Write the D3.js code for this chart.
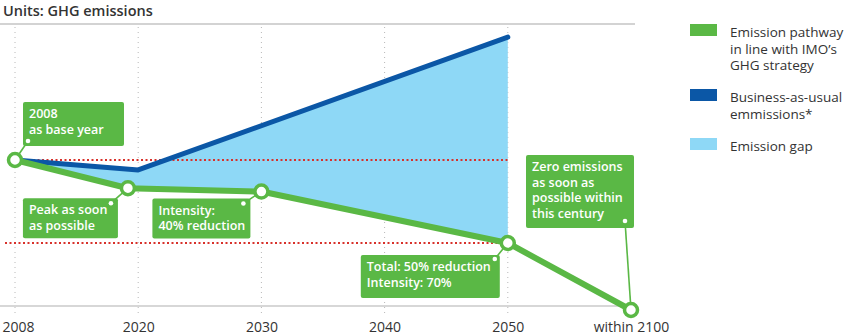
<!DOCTYPE html>
<html>
<head>
<meta charset="utf-8">
<script src="https://cdn.jsdelivr.net/npm/d3@7"></script>
<style>
  body { margin: 0; background: #fff; }
  svg text { font-family: "Open Sans", sans-serif; }
</style>
</head>
<body>
<svg id="chart"></svg>
<script>
// x ticks are evenly spaced even though the years are not
var tickYears = [2008, 2020, 2030, 2040, 2050, 2100];
var tickLabels = ["2008", "2020", "2030", "2040", "2050", "within 2100"];

// IMO pathway (index, 2008 = 100)
var pathwayYears = [2008, 2019, 2030, 2050, 2100];
var pathwayValues = [100, 83, 81, 50, 0];

// business-as-usual
var bauYears = [2008, 2020, 2050];
var bauValues = [100, 94, 174];

// dotted reference levels: base year and -50%
var refLevels = [100, 50];

var legendLabels = [
  ["Emission pathway", "in line with IMO\u2019s", "GHG strategy"],
  ["Business-as-usual", "emmissions*"],
  ["Emission gap"]
];

var noteLines = [
  ["2008", "as base year"],
  ["Peak as soon", "as possible"],
  ["Intensity:", "40% reduction"],
  ["Total: 50% reduction", "Intensity: 70%"],
  ["Zero emissions", "as soon as", "possible within", "this century"]
];

var W = 850, H = 336;
var green = "#5ab845", blue = "#0b57a6", gap = "#8ed8f6", red = "#d8312b";

var svg = d3.select("#chart").attr("width", W).attr("height", H);

var x0 = 15, step = 123.2;
var x = d3.scaleLinear()
  .domain(tickYears)
  .range(tickYears.map(function(d, i){ return x0 + i*step; }));

// piecewise so that 100, 50 and 0 sit on the drawn levels
var y = d3.scaleLinear().domain([0, 50, 100]).range([310, 243, 160]);

var pathway = pathwayYears.map(function(d, i){ return {year: d, value: pathwayValues[i]}; });
var bau = bauYears.map(function(d, i){ return {year: d, value: bauValues[i]}; });

var line = d3.line()
  .x(function(d){ return x(d.year); })
  .y(function(d){ return y(d.value); });

// title + top rule
svg.append("text")
  .attr("x", 3).attr("y", 15.5)
  .attr("font-size", 14.5).attr("font-weight", 600).attr("fill", "#333")
  .text("Units: GHG emissions");
svg.append("line")
  .attr("x1", 0).attr("x2", 635).attr("y1", 24).attr("y2", 24)
  .attr("stroke", "#c4c4c4").attr("stroke-width", 1.5);

// vertical grid
svg.append("g").selectAll("line")
  .data(tickYears.slice(0, 5))
  .enter()
  .append("line")
    .attr("x1", function(d){ return x(d); })
    .attr("x2", function(d){ return x(d); })
    .attr("y1", 27).attr("y2", 316)
    .attr("stroke", "#b8b8b8")
    .attr("stroke-width", 1)
    .attr("stroke-dasharray", "1,4");

// bottom axis
svg.append("line")
  .attr("x1", 0).attr("x2", 625).attr("y1", 306).attr("y2", 306)
  .attr("stroke", "#b0b0b0").attr("stroke-width", 1.2);

var axis = svg.append("g")
  .attr("transform", "translate(0,306)")
  .call(d3.axisBottom(x).tickValues(tickYears).tickSize(0).tickPadding(16)
    .tickFormat(function(d, i){ return tickLabels[i]; }));
axis.select(".domain").remove();
axis.selectAll("text")
  .attr("font-size", 14).attr("font-weight", 500).attr("fill", "#333")
  .attr("font-family", "'Open Sans', sans-serif");
axis.selectAll(".tick").filter(function(d){ return d === 2008; })
  .select("text").attr("dx", 3);

// emission gap between the two curves up to 2050
var upto2050 = pathway.filter(function(d){ return d.year <= 2050; });
svg.append("path")
  .attr("d", line(bau.concat(upto2050.slice().reverse())) + "Z")
  .attr("fill", gap);

// reference levels
svg.append("line")
  .attr("x1", x(2008) + 9).attr("x2", x(2050))
  .attr("y1", y(refLevels[0])).attr("y2", y(refLevels[0]))
  .attr("stroke", red).attr("stroke-width", 2).attr("stroke-dasharray", "2,2.5");
svg.append("line")
  .attr("x1", 5).attr("x2", x(2050) - 8)
  .attr("y1", y(refLevels[1])).attr("y2", y(refLevels[1]))
  .attr("stroke", red).attr("stroke-width", 2).attr("stroke-dasharray", "2,2.5");

svg.append("path")
  .attr("d", line(bau))
  .attr("fill", "none").attr("stroke", blue).attr("stroke-width", 5)
  .attr("stroke-linejoin", "round").attr("stroke-linecap", "round");

svg.append("path")
  .attr("d", line(pathway))
  .attr("fill", "none").attr("stroke", green).attr("stroke-width", 6)
  .attr("stroke-linejoin", "round");

// callout boxes, placed relative to the point they describe
var noteLayout = [
  {dx: 8,    dy: -58,  w: 101, h: 44, dotX: 5,   dotY: 39},
  {dx: -105, dy: 10,   w: 95,  h: 40, dotX: 88,  dotY: 5},
  {dx: -109, dy: 7,    w: 98,  h: 40, dotX: 91,  dotY: 5},
  {dx: -147, dy: 12,   w: 139, h: 43, dotX: 134, dotY: 4},
  {dx: -105, dy: -155, w: 108, h: 73, dotX: 99,  dotY: 66}
];

var notes = svg.append("g").selectAll("g")
  .data(pathway)
  .enter()
  .append("g")
    .attr("transform", function(d, i){
      var l = noteLayout[i];
      return "translate(" + (x(d.year) + l.dx) + "," + (y(d.value) + l.dy) + ")";
    });

notes.append("line")
  .attr("x1", function(d, i){ return noteLayout[i].dotX; })
  .attr("y1", function(d, i){ return noteLayout[i].dotY; })
  .attr("x2", function(d, i){ return -noteLayout[i].dx; })
  .attr("y2", function(d, i){ return -noteLayout[i].dy; })
  .attr("stroke", green).attr("stroke-width", 1.6);

notes.append("rect")
  .attr("width", function(d, i){ return noteLayout[i].w; })
  .attr("height", function(d, i){ return noteLayout[i].h; })
  .attr("rx", 2)
  .attr("fill", green);

notes.append("circle")
  .attr("cx", function(d, i){ return noteLayout[i].dotX; })
  .attr("cy", function(d, i){ return noteLayout[i].dotY; })
  .attr("r", 2.3)
  .attr("fill", "#fff");

notes.each(function(d, i){
  var t = d3.select(this).append("text")
    .attr("font-size", 12.5).attr("font-weight", 600).attr("fill", "#fff");
  noteLines[i].forEach(function(s, k){
    t.append("tspan").attr("x", 6).attr("y", 16 + k*15.5).text(s);
  });
});

// hollow markers on the pathway
svg.append("g").selectAll("circle")
  .data(pathway)
  .enter()
  .append("circle")
    .attr("cx", function(d){ return x(d.year); })
    .attr("cy", function(d){ return y(d.value); })
    .attr("r", 6.5)
    .attr("fill", "#fff")
    .attr("stroke", green)
    .attr("stroke-width", 3.5);

// legend
var legendColors = [green, blue, gap];
var legendY = [24, 89, 138];
var legend = svg.append("g").selectAll("g")
  .data(legendLabels)
  .enter()
  .append("g")
    .attr("transform", function(d, i){ return "translate(690," + legendY[i] + ")"; });
legend.append("rect")
  .attr("width", 27).attr("height", 12)
  .attr("fill", function(d, i){ return legendColors[i]; });
legend.each(function(d){
  var t = d3.select(this).append("text")
    .attr("font-size", 13.5).attr("font-weight", 500).attr("fill", "#333");
  d.forEach(function(s, k){
    t.append("tspan").attr("x", 40).attr("y", 13 + k*16.5).text(s);
  });
});
</script>
</body>
</html>
